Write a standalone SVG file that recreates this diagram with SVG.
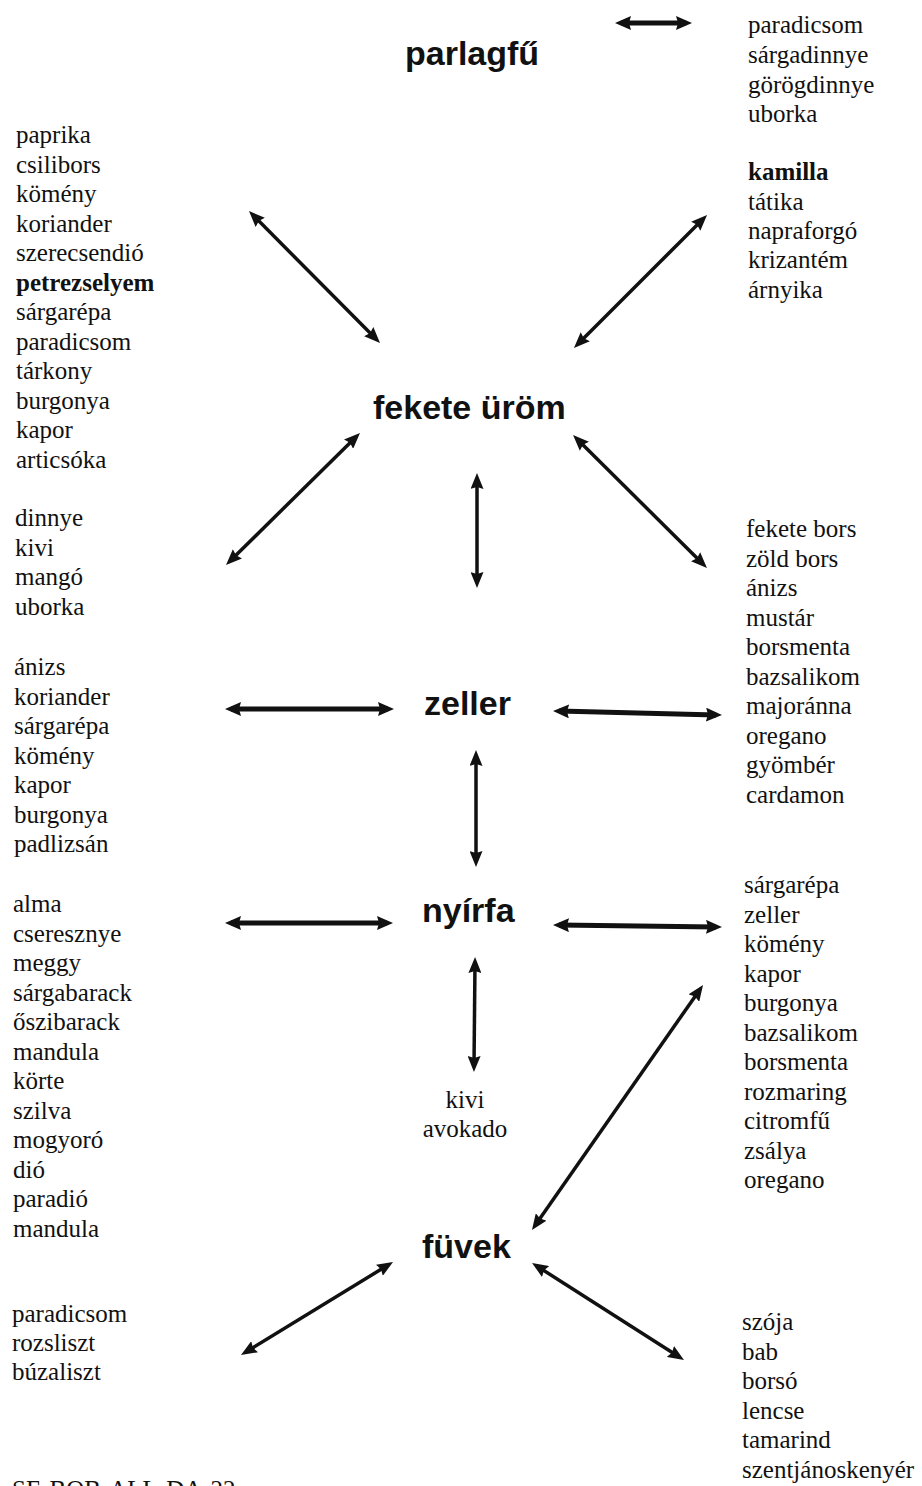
<svg xmlns="http://www.w3.org/2000/svg" width="922" height="1486" viewBox="0 0 922 1486">
<style>
.hub{font-family:"Liberation Sans",Arial,sans-serif;font-weight:bold;font-size:34px;fill:#111}
.lst{font-family:"Liberation Serif","Times New Roman",serif;font-size:25px;fill:#111}
.b{font-weight:bold}
.c{fill:none;stroke:#111;stroke-width:3.5}
.t{stroke-width:5}
</style>
<defs>
<marker id="ah" viewBox="0 0 16 13" markerUnits="userSpaceOnUse" markerWidth="16" markerHeight="13" refX="10" refY="6.5" orient="auto-start-reverse">
<path d="M0,0 L16,6.5 L0,13 L2,6.5 z" fill="#111"/>
</marker>
<marker id="ahb" viewBox="0 0 16 14" markerUnits="userSpaceOnUse" markerWidth="16" markerHeight="14" refX="10" refY="7" orient="auto-start-reverse">
<path d="M0,0 L16,7 L0,14 L2,7 z" fill="#111"/>
</marker>
</defs>
<rect width="922" height="1486" fill="#fff"/>

<g id="connectors">
<line class="c t" x1="621" y1="23" x2="686" y2="23" marker-start="url(#ahb)" marker-end="url(#ahb)"/>
<line class="c" x1="253.2" y1="215.3" x2="375.8" y2="338.7" marker-start="url(#ah)" marker-end="url(#ah)"/>
<line class="c" x1="702.8" y1="219.2" x2="578.2" y2="343.8" marker-start="url(#ah)" marker-end="url(#ah)"/>
<line class="c" x1="355.7" y1="437.2" x2="230.3" y2="560.8" marker-start="url(#ah)" marker-end="url(#ah)"/>
<line class="c" x1="577.3" y1="439.2" x2="702.7" y2="563.8" marker-start="url(#ah)" marker-end="url(#ah)"/>
<line class="c" x1="477" y1="479" x2="477" y2="582" marker-start="url(#ah)" marker-end="url(#ah)"/>
<line class="c t" x1="231" y1="709" x2="388" y2="709" marker-start="url(#ahb)" marker-end="url(#ahb)"/>
<line class="c t" x1="559" y1="711.1" x2="716" y2="714.9" marker-start="url(#ahb)" marker-end="url(#ahb)"/>
<line class="c" x1="476" y1="756" x2="476" y2="861" marker-start="url(#ah)" marker-end="url(#ah)"/>
<line class="c t" x1="231" y1="923" x2="387" y2="923" marker-start="url(#ahb)" marker-end="url(#ahb)"/>
<line class="c t" x1="559" y1="925" x2="716" y2="927" marker-start="url(#ahb)" marker-end="url(#ahb)"/>
<line class="c" x1="475" y1="963" x2="474" y2="1066" marker-start="url(#ah)" marker-end="url(#ah)"/>
<line class="c" x1="699.6" y1="989.9" x2="535.4" y2="1225.1" marker-start="url(#ah)" marker-end="url(#ah)"/>
<line class="c" x1="387.9" y1="1265.1" x2="246.1" y2="1351.9" marker-start="url(#ah)" marker-end="url(#ah)"/>
<line class="c" x1="537.1" y1="1266.2" x2="678.9" y2="1356.8" marker-start="url(#ah)" marker-end="url(#ah)"/>
</g>

<g id="parlagfu"><text class="hub" x="405" y="65">parlagfű</text></g>
<g id="fekete-urom"><text class="hub" x="373" y="419">fekete üröm</text></g>
<g id="zeller"><text class="hub" x="424" y="715">zeller</text></g>
<g id="nyirfa"><text class="hub" x="422" y="922">nyírfa</text></g>
<g id="fuvek"><text class="hub" x="422" y="1258">füvek</text></g>

<g id="list-parlagfu" class="lst">
<text x="748" y="33">paradicsom</text>
<text x="748" y="63">sárgadinnye</text>
<text x="748" y="93">görögdinnye</text>
<text x="748" y="122">uborka</text>
</g>

<g id="list-kamilla" class="lst">
<text x="748" y="180" class="b">kamilla</text>
<text x="748" y="210">tátika</text>
<text x="748" y="239">napraforgó</text>
<text x="748" y="268">krizantém</text>
<text x="748" y="298">árnyika</text>
</g>

<g id="list-petrezselyem" class="lst">
<text x="16" y="143">paprika</text>
<text x="16" y="172.5">csilibors</text>
<text x="16" y="202">kömény</text>
<text x="16" y="231.5">koriander</text>
<text x="16" y="261">szerecsendió</text>
<text x="16" y="290.5" class="b">petrezselyem</text>
<text x="16" y="320">sárgarépa</text>
<text x="16" y="349.5">paradicsom</text>
<text x="16" y="379">tárkony</text>
<text x="16" y="408.5">burgonya</text>
<text x="16" y="438">kapor</text>
<text x="16" y="467.5">articsóka</text>
</g>

<g id="list-dinnye" class="lst">
<text x="15" y="526">dinnye</text>
<text x="15" y="555.5">kivi</text>
<text x="15" y="585">mangó</text>
<text x="15" y="614.5">uborka</text>
</g>

<g id="list-bors" class="lst">
<text x="746" y="537">fekete bors</text>
<text x="746" y="566.5">zöld bors</text>
<text x="746" y="596">ánizs</text>
<text x="746" y="625.5">mustár</text>
<text x="746" y="655">borsmenta</text>
<text x="746" y="684.5">bazsalikom</text>
<text x="746" y="714">majoránna</text>
<text x="746" y="743.5">oregano</text>
<text x="746" y="773">gyömbér</text>
<text x="746" y="802.5">cardamon</text>
</g>

<g id="list-zeller-left" class="lst">
<text x="14" y="675">ánizs</text>
<text x="14" y="704.5">koriander</text>
<text x="14" y="734">sárgarépa</text>
<text x="14" y="763.5">kömény</text>
<text x="14" y="793">kapor</text>
<text x="14" y="822.5">burgonya</text>
<text x="14" y="852">padlizsán</text>
</g>

<g id="list-nyirfa-left" class="lst">
<text x="13" y="912">alma</text>
<text x="13" y="941.5">cseresznye</text>
<text x="13" y="971">meggy</text>
<text x="13" y="1000.5">sárgabarack</text>
<text x="13" y="1030">őszibarack</text>
<text x="13" y="1059.5">mandula</text>
<text x="13" y="1089">körte</text>
<text x="13" y="1118.5">szilva</text>
<text x="13" y="1148">mogyoró</text>
<text x="13" y="1177.5">dió</text>
<text x="13" y="1207">paradió</text>
<text x="13" y="1236.5">mandula</text>
</g>

<g id="list-nyirfa-right" class="lst">
<text x="744" y="893">sárgarépa</text>
<text x="744" y="922.5">zeller</text>
<text x="744" y="952">kömény</text>
<text x="744" y="981.5">kapor</text>
<text x="744" y="1011">burgonya</text>
<text x="744" y="1040.5">bazsalikom</text>
<text x="744" y="1070">borsmenta</text>
<text x="744" y="1099.5">rozmaring</text>
<text x="744" y="1129">citromfű</text>
<text x="744" y="1158.5">zsálya</text>
<text x="744" y="1188">oregano</text>
</g>

<g id="list-kivi" class="lst">
<text x="465" y="1108" text-anchor="middle">kivi</text>
<text x="465" y="1137" text-anchor="middle">avokado</text>
</g>

<g id="list-fuvek-left" class="lst">
<text x="12" y="1322">paradicsom</text>
<text x="12" y="1351">rozsliszt</text>
<text x="12" y="1380">búzaliszt</text>
</g>

<g id="list-fuvek-right" class="lst">
<text x="742" y="1330">szója</text>
<text x="742" y="1359.5">bab</text>
<text x="742" y="1389">borsó</text>
<text x="742" y="1418.5">lencse</text>
<text x="742" y="1448">tamarind</text>
<text x="742" y="1477.5">szentjánoskenyér</text>
</g>

<g id="footer" class="lst">
<text x="12" y="1498">SE-BOB-ALL-DA-22</text>
</g>
</svg>
